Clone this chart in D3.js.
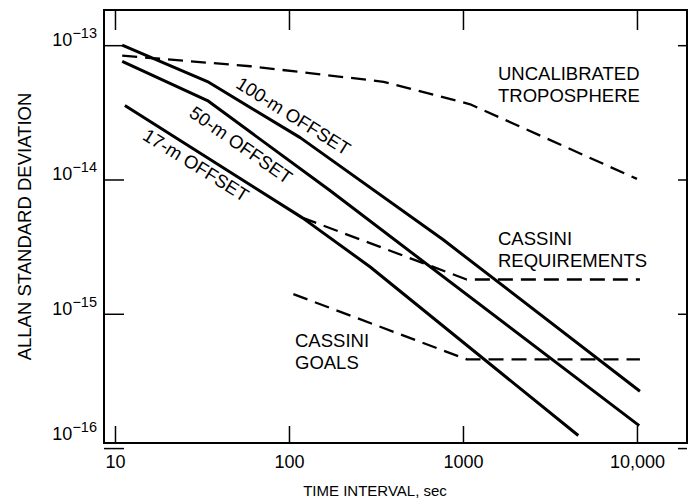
<!DOCTYPE html>
<html>
<head>
<meta charset="utf-8">
<script src="https://cdn.jsdelivr.net/npm/d3@7"></script>
<style>
  html, body { margin: 0; padding: 0; background: #fff; }
  svg { display: block; font-family: "Liberation Sans", Arial, Helvetica, sans-serif; }
</style>
</head>
<body>
<div id="chart"></div>
<script>
const xTicks = [10, 100, 1000, 10000];
const xTickLabels = ["10", "100", "1000", "10,000"];
const yTicks = [1e-13, 1e-14, 1e-15, 1e-16];
const yTickExponents = ["−13", "−14", "−15", "−16"];

// time interval (sec) and Allan standard deviation
const tau100m = [11, 34, 116, 767, 10400];
const sigma100m = [1.0e-13, 5.36e-14, 2.05e-14, 3.57e-15, 2.65e-16];
const tau50m = [11, 34, 172, 10300];
const sigma50m = [7.58e-14, 3.87e-14, 8.27e-15, 1.47e-16];
const tau17m = [11.4, 119, 292, 4600];
const sigma17m = [3.55e-14, 5.2e-15, 2.24e-15, 1.24e-16];
const tauTropo = [11, 60, 350, 1100, 10000];
const sigmaTropo = [8.36e-14, 6.97e-14, 5.34e-14, 3.63e-14, 1.01e-14];
const tauReq = [119, 1050, 10400];
const sigmaReq = [5.2e-15, 1.8e-15, 1.8e-15];
const tauGoals = [106, 1050, 10400];
const sigmaGoals = [1.4e-15, 4.58e-16, 4.57e-16];

const series = [
  { tau: tau100m, sigma: sigma100m, dashed: false },
  { tau: tau50m, sigma: sigma50m, dashed: false },
  { tau: tau17m, sigma: sigma17m, dashed: false },
  { tau: tauTropo, sigma: sigmaTropo, dashed: true },
  { tau: tauReq, sigma: sigmaReq, dashed: true },
  { tau: tauGoals, sigma: sigmaGoals, dashed: true },
];

const width = 697;
const height = 504;
const margin = ({ top: 10, right: 10, bottom: 61, left: 104 });

const svg = d3.select("#chart").append("svg")
  .attr("width", width)
  .attr("height", height)
  .attr("viewBox", [0, 0, width, height]);

const x = d3.scaleLog()
  .domain([8.647, 19390])
  .range([margin.left, width - margin.right]);

const y = d3.scaleLog()
  .domain([1.091e-16, 1.828e-13])
  .range([height - margin.bottom, margin.top]);

const styleTicks = g => g
  .call(g => g.select(".domain").remove())
  .call(g => g.selectAll(".tick line").attr("stroke", "#000").attr("stroke-width", 1.5));

const xAxis = g => g
  .attr("transform", `translate(0,${height - margin.bottom})`)
  .call(d3.axisBottom(x).tickValues(xTicks).tickSize(-17).tickPadding(12)
    .tickFormat((d, i) => xTickLabels[i]))
  .call(styleTicks)
  .call(g => g.selectAll(".tick text").attr("font-size", 18).attr("fill", "#000")
    .attr("font-family", "Liberation Sans, Arial, sans-serif"));

const xAxisTop = g => g
  .attr("transform", `translate(0,${margin.top})`)
  .call(d3.axisTop(x).tickValues(xTicks).tickSize(-20).tickFormat(""))
  .call(styleTicks);

const yAxis = g => g
  .attr("transform", `translate(${margin.left},0)`)
  .call(d3.axisLeft(y).tickValues(yTicks).tickSize(-20).tickFormat(""))
  .call(styleTicks);

const yAxisRight = g => g
  .attr("transform", `translate(${width - margin.right},0)`)
  .call(d3.axisRight(y).tickValues(yTicks).tickSize(-9).tickFormat(""))
  .call(styleTicks);

svg.append("g").call(xAxis);
svg.append("g").call(xAxisTop);
svg.append("g").call(yAxis);
svg.append("g").call(yAxisRight);

// frame
svg.append("rect")
  .attr("x", margin.left)
  .attr("y", margin.top)
  .attr("width", width - margin.left - margin.right)
  .attr("height", height - margin.top - margin.bottom)
  .attr("fill", "none")
  .attr("stroke", "#000")
  .attr("stroke-width", 2);

// y tick labels, 10 with superscript exponent
svg.append("g")
  .selectAll("text")
  .data(yTicks)
  .join("text")
  .attr("x", margin.left - 7)
  .attr("y", d => Math.min(y(d) + 1, height - margin.bottom - 3))
  .attr("text-anchor", "end")
  .attr("fill", "#000")
  .call(t => t.append("tspan").attr("font-size", 18).text("10"))
  .call(t => t.append("tspan").attr("font-size", 14.5).attr("dy", -8)
    .text(d => yTickExponents[yTicks.indexOf(d)]));

const line = d3.line()
  .x(d => x(d[0]))
  .y(d => y(d[1]));

series.forEach(s => {
  svg.append("path")
    .datum(s.tau.map((t, i) => [t, s.sigma[i]]))
    .attr("fill", "none")
    .attr("stroke", "#000")
    .attr("stroke-width", s.dashed ? 2.3 : 3)
    .attr("stroke-linejoin", "round")
    .attr("stroke-dasharray", s.dashed ? "15,8" : null)
    .attr("d", line);
});

// curve labels
const angled = [
  { text: "100-m OFFSET", cx: 293.5, cy: 116, angle: 32 },
  { text: "50-m OFFSET", cx: 241, cy: 145, angle: 35 },
  { text: "17-m OFFSET", cx: 196, cy: 165, angle: 32 },
];
svg.append("g")
  .selectAll("text")
  .data(angled)
  .join("text")
  .attr("transform", d => `translate(${d.cx},${d.cy}) rotate(${d.angle})`)
  .attr("text-anchor", "middle")
  .attr("dy", "0.35em")
  .attr("font-size", 18.5)
  .text(d => d.text);

const blocks = [
  { lines: ["UNCALIBRATED", "TROPOSPHERE"], x: 498, y: 80 },
  { lines: ["CASSINI", "REQUIREMENTS"], x: 498, y: 245 },
  { lines: ["CASSINI", "GOALS"], x: 295, y: 347 },
];
blocks.forEach(b => {
  svg.append("text")
    .attr("font-size", 18.5)
    .selectAll("tspan")
    .data(b.lines)
    .join("tspan")
    .attr("x", b.x)
    .attr("y", (d, i) => b.y + i * 22)
    .text(d => d);
});

svg.append("text")
  .attr("x", 375)
  .attr("y", 496)
  .attr("text-anchor", "middle")
  .attr("font-size", 15)
  .text("TIME INTERVAL, sec");

svg.append("text")
  .attr("transform", "translate(30.5,226.5) rotate(-90)")
  .attr("text-anchor", "middle")
  .attr("font-size", 18.5)
  .text("ALLAN STANDARD DEVIATION");
</script>
</body>
</html>
